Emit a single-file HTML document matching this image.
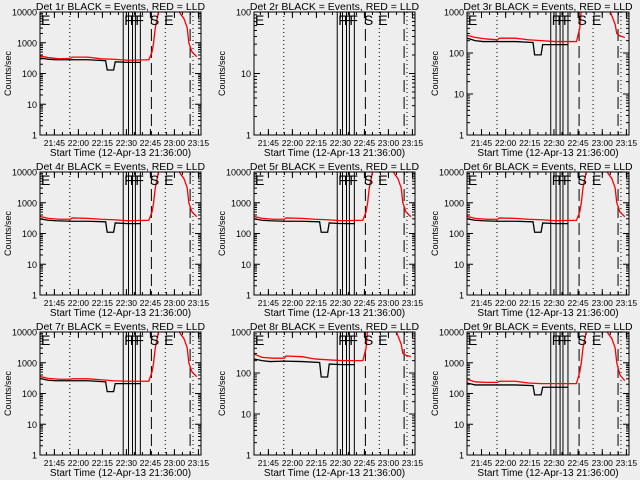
<!DOCTYPE html>
<html><head><meta charset="utf-8"><style>
body{margin:0;background:#eeeeee;}
svg{display:block;font-family:"Liberation Sans",sans-serif;}
</style></head><body>
<svg id="c" width="640" height="480" viewBox="0 0 640 480"></svg>
<script>
// time in minutes since 21:36:00
const panelNames = ["1r","2r","3r","4r","5r","6r","7r","8r","9r"];
const panelYMax = [10000,100,1000,10000,10000,10000,10000,1000,10000];
const tickTimes = [9,24,39,54,69,84,99];
const tickLabels = ["21:45","22:00","22:15","22:30","22:45","23:00","23:15"];
const solidTimes = [52,55.3,57.8,59.6,62.7];
const dashedTimes = [69.6,93.8];
const dottedTimes = [18.6,78.3,95.6];
const flagTimes = [0,52,55.5,59,68,77];
const flagLetters = ["E","F","F","F","S","E"];
const blackT = [0,5,10,19,30,41,42,46,47,55,63];
const redT = [0,5,12,19,20,30,38,46,55,68,70,71,72,74,75];
const redT2 = [85,87,90,92,93,95,98];
const black = [
 [320,290,280,280,280,260,130,130,240,230,230],
 null,
 [230,200,190,190,190,180,90,90,160,160,160],
 [300,270,260,250,250,240,110,110,220,210,210],
 [300,270,260,250,250,240,110,110,220,210,210],
 [300,270,260,250,250,240,110,110,220,210,210],
 [310,270,260,260,260,240,115,115,210,210,210],
 [220,200,190,195,190,180,80,80,165,160,160],
 [220,190,190,190,190,180,90,90,160,160,160]
];
const red = [
 [370,330,300,310,340,340,300,290,270,280,500,1000,3000,10000,15000],
 null,
 [270,240,220,210,230,230,210,200,190,190,400,1200,3000,8000,15000],
 [360,310,290,290,320,310,290,280,260,270,500,1000,3000,10000,15000],
 [360,310,290,290,320,310,290,280,260,270,500,1000,3000,10000,15000],
 [360,310,290,290,320,310,290,280,260,270,500,1000,3000,10000,15000],
 [360,310,290,290,300,300,280,260,250,250,500,1000,3000,10000,15000],
 [290,240,230,230,260,250,220,210,200,200,400,1200,3000,8000,15000],
 [290,240,230,230,250,250,220,210,210,210,500,1000,3000,10000,15000]
];
const red2 = [
 [12000,10000,6000,3000,1000,500,350],
 null,
 [3000,1500,800,500,300,260,240],
 [12000,10000,6000,3000,1000,500,350],
 [12000,10000,6000,3000,1000,500,350],
 [12000,10000,6000,3000,1000,500,350],
 [12000,10000,6000,3000,1000,500,350],
 [3000,1500,800,500,300,270,250],
 [12000,10000,6000,3000,1000,400,260]
];
const svg=document.getElementById('c');
const NS='http://www.w3.org/2000/svg';
function mk(tag,attrs,parent){const e=document.createElementNS(NS,tag);for(const k in attrs)e.setAttribute(k,attrs[k]);(parent||svg).appendChild(e);return e;}
const colL=[40,254,467], colR=[201,415,629], rowT=[12,172,332], rowB=[135,295,455];
const TMAX=100.6;
for(let p=0;p<9;p++){
 const r=Math.floor(p/3), c=p%3;
 const L=colL[c],R=colR[c],T=rowT[r],B=rowB[r];
 const ymax=panelYMax[p];
 const xs=t=>L+(R-L)*t/TMAX;
 const ys=v=>B-(B-T)*Math.log10(v)/Math.log10(ymax);
 const g=mk('g',{});
 
 
 const clipId='clip'+p;
 const cp=mk('clipPath',{id:clipId},g);mk('rect',{x:L,y:T,width:R-L,height:B-T},cp);
 const title=mk('text',{x:(L+R)/2,y:T-2,'text-anchor':'middle','font-size':10.5},g);
 title.textContent='Det '+panelNames[p]+' BLACK = Events, RED = LLD';
 
 
 const yl=mk('text',{x:0,y:0,'text-anchor':'middle','font-size':9,transform:`translate(${L-29},${(T+B)/2}) rotate(-90)`},g);
 yl.textContent='Counts/sec';
 
 
 const xl=mk('text',{x:(L+R)/2,y:B+21,'text-anchor':'middle','font-size':10},g);
 xl.textContent='Start Time (12-Apr-13 21:36:00)';
 
 
 const dec=Math.round(Math.log10(ymax));
 for(let d=0;d<=dec;d++){
  const v=Math.pow(10,d),y=ys(v);
  mk('line',{x1:L,x2:L+6,y1:y,y2:y,stroke:'#000'},g);mk('line',{x1:R,x2:R-6,y1:y,y2:y,stroke:'#000'},g);
  const tl=mk('text',{x:L-3,y:y+3.5,'text-anchor':'end','font-size':9},g);tl.textContent=String(v);
  
  
  if(d<dec)for(let m=2;m<10;m++){const yy=ys(m*v);mk('line',{x1:L,x2:L+3,y1:yy,y2:yy,stroke:'#000'},g);mk('line',{x1:R,x2:R-3,y1:yy,y2:yy,stroke:'#000'},g);}
 }
 for(let i=0;i<tickTimes.length;i++){
  const x=xs(tickTimes[i]);
  mk('line',{x1:x,x2:x,y1:B,y2:B-6,stroke:'#000'},g);mk('line',{x1:x,x2:x,y1:T,y2:T+6,stroke:'#000'},g);
  const tl=mk('text',{x:x,y:B+11,'text-anchor':'middle','font-size':8.5},g);tl.textContent=tickLabels[i];
  
  
 }
 for(let t=4;t<TMAX;t+=5){const x=xs(t);mk('line',{x1:x,x2:x,y1:B,y2:B-3,stroke:'#000'},g);mk('line',{x1:x,x2:x,y1:T,y2:T+3,stroke:'#000'},g);}
 const cg=mk('g',{'clip-path':`url(#${clipId})`},g);
 dottedTimes.forEach(t=>mk('line',{x1:xs(t),x2:xs(t),y1:T,y2:B,stroke:'#000','stroke-dasharray':'1,3'},cg));
 dashedTimes.forEach(t=>mk('line',{x1:xs(t),x2:xs(t),y1:T,y2:B,stroke:'#000','stroke-dasharray':'12,5'},cg));
 solidTimes.forEach(t=>mk('line',{x1:xs(t),x2:xs(t),y1:T,y2:B,stroke:'#000'},cg));
 if(black[p]){
  const bp=mk('polyline',{points:blackT.map((t,i)=>xs(t)+','+ys(black[p][i])).join(' '),fill:'none',stroke:'#000','stroke-width':1.3},cg);
  
  
  const rp=mk('polyline',{points:redT.map((t,i)=>xs(t)+','+ys(red[p][i])).join(' '),fill:'none',stroke:'#f00','stroke-width':1.3},cg);
  
  
  const rp2=mk('polyline',{points:redT2.map((t,i)=>xs(t)+','+ys(red2[p][i])).join(' '),fill:'none',stroke:'#f00','stroke-width':1.3},cg);
  
  
 }
 flagTimes.forEach((t,i)=>{const ft=mk('text',{x:xs(t)+1,y:T+13,'font-size':14,fill:'#000'},cg);ft.textContent=flagLetters[i];
  
  });
 mk('rect',{x:L,y:T,width:R-L,height:B-T,fill:'none',stroke:'#000'},g);
}
</script>
</body></html>
